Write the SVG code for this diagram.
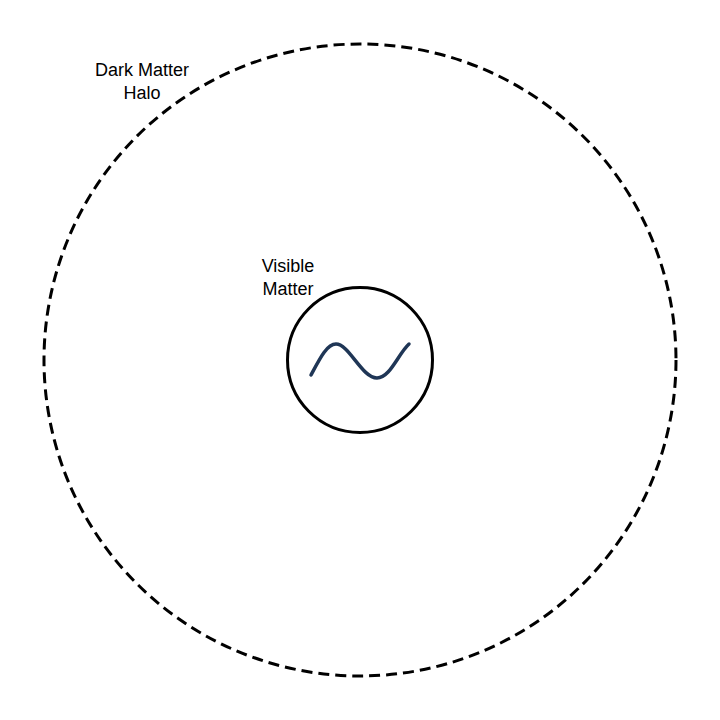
<svg xmlns="http://www.w3.org/2000/svg" width="720" height="720" viewBox="0 0 720 720">
<style>
.lbl{font-family:"Liberation Sans",Arial,sans-serif;font-size:18px;fill:#000;text-anchor:middle}
</style>
<rect width="720" height="720" fill="#fff"/>
<g id="halo">
<circle cx="360" cy="360" r="316" fill="none" stroke="#000" stroke-width="3" stroke-dasharray="11 6"/>
<text class="lbl" x="142" y="76">Dark Matter</text>
<text class="lbl" x="142" y="99">Halo</text>
</g>
<g id="visible">
<circle cx="360" cy="360" r="72.5" fill="none" stroke="#000" stroke-width="3"/>
<path d="M311,375 C320,358 327,344 336,344 C349,344 362,378 377,378 C390,378 398,354 409,344" fill="none" stroke="#1f3656" stroke-width="3.5" stroke-linecap="round"/>
<text class="lbl" x="288" y="272">Visible</text>
<text class="lbl" x="288" y="295">Matter</text>
</g>
</svg>
